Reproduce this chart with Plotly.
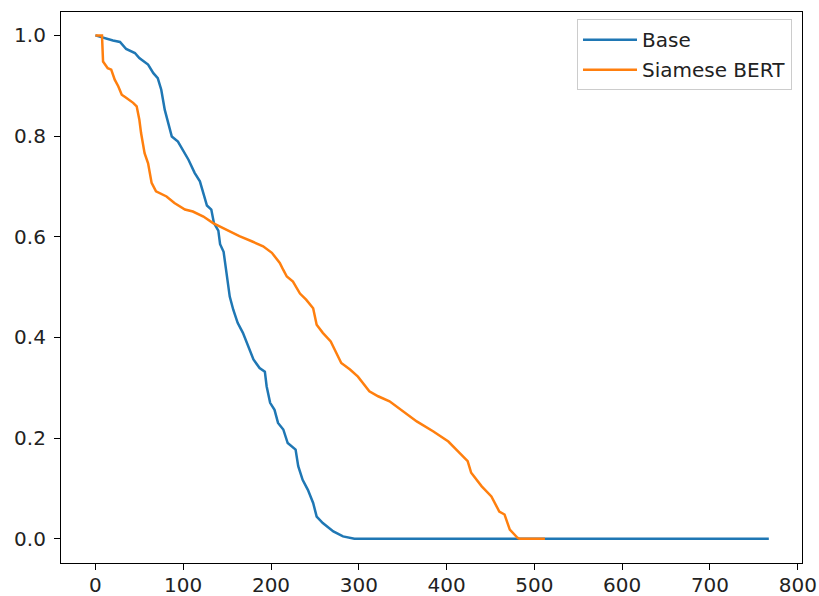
import plotly.graph_objects as go

# Base series
base_x = [0, 9, 20, 28, 35, 45, 50, 60, 66, 71, 75, 79, 82, 87, 94, 102, 106, 113, 119, 124,
          127, 132, 135, 140, 142, 146, 149, 153, 157, 162, 168, 174, 180, 187, 193, 195, 199,
          204, 208, 214, 219, 228, 231, 236, 242, 248, 252, 259, 265, 271, 282, 295, 767]
base_y = [1.0, 0.995, 0.99, 0.987, 0.973, 0.965, 0.955, 0.942, 0.925, 0.915, 0.892, 0.852,
          0.833, 0.799, 0.789, 0.766, 0.753, 0.727, 0.710, 0.680, 0.662, 0.654, 0.627, 0.612,
          0.585, 0.570, 0.535, 0.481, 0.455, 0.429, 0.409, 0.382, 0.356, 0.339, 0.332, 0.303,
          0.270, 0.256, 0.230, 0.217, 0.190, 0.177, 0.144, 0.117, 0.097, 0.071, 0.044, 0.031,
          0.022, 0.0145, 0.0046, 0.0, 0.0]

# Siamese BERT series
siam_x = [0, 7.5, 8.7, 14, 18, 22, 26, 30, 35, 43, 47, 50, 52, 56, 60, 64, 69, 81, 90, 102,
          111, 123, 134, 149, 164, 178, 191, 201, 210, 214, 218, 225, 233, 240, 248, 252, 259,
          268, 275, 280, 290, 299, 312, 322, 335, 345, 350, 366, 385, 402, 415, 424, 428, 440,
          451, 460, 466, 472, 481, 483, 512]
siam_y = [1.0, 1.0, 0.948, 0.935, 0.932, 0.912, 0.899, 0.882, 0.876, 0.866, 0.859, 0.833,
          0.806, 0.766, 0.746, 0.707, 0.690, 0.680, 0.667, 0.654, 0.650, 0.640, 0.627, 0.614,
          0.601, 0.591, 0.581, 0.568, 0.548, 0.534, 0.521, 0.511, 0.487, 0.475, 0.458, 0.425,
          0.409, 0.392, 0.366, 0.349, 0.336, 0.322, 0.293, 0.283, 0.273, 0.260, 0.253, 0.233,
          0.213, 0.193, 0.170, 0.154, 0.131, 0.104, 0.084, 0.054, 0.048, 0.018, 0.0014, 0.0, 0.0]

x_ticks = [0, 100, 200, 300, 400, 500, 600, 700, 800]
y_ticks = [0.0, 0.2, 0.4, 0.6, 0.8, 1.0]

FONT = "DejaVu Sans"

fig = go.Figure()
fig.add_trace(go.Scatter(x=base_x, y=base_y, mode="lines", name="Base",
                         line=dict(color="#1f77b4", width=2.5), legendgroup="a"))
fig.add_trace(go.Scatter(x=siam_x, y=siam_y, mode="lines", name="Siamese BERT",
                         line=dict(color="#ff7f0e", width=2.5), legendgroup="b"))

axis_common = dict(showline=True, mirror=True, linecolor="black", linewidth=1.2,
                   ticks="outside", ticklen=6, tickwidth=1.2, tickcolor="black",
                   showgrid=False, zeroline=False, automargin=False,
                   tickfont=dict(family=FONT, size=20, color="#222222"))

fig.update_layout(
    width=819, height=596,
    margin=dict(l=61, r=17, t=12, b=33),
    paper_bgcolor="white", plot_bgcolor="white",
    xaxis=dict(range=[-39.2, 804.8], tickvals=x_ticks, ticklabelstandoff=-2,
               ticktext=[str(v) for v in x_ticks], **axis_common),
    yaxis=dict(range=[-0.0483, 1.0465], tickvals=y_ticks, ticklabelstandoff=4,
               ticktext=[f"{v:.1f}" for v in y_ticks], **axis_common),
    legend=dict(x=0.9865, y=0.987, xanchor="right", yanchor="top",
                bgcolor="white", bordercolor="#cccccc", borderwidth=1,
                font=dict(family=FONT, size=20, color="#222222"),
                tracegroupgap=1, itemwidth=54),
    showlegend=True,
)

fig.write_html("out.html", config={"displayModeBar": False},
               post_script="document.body.style.margin='0';")
